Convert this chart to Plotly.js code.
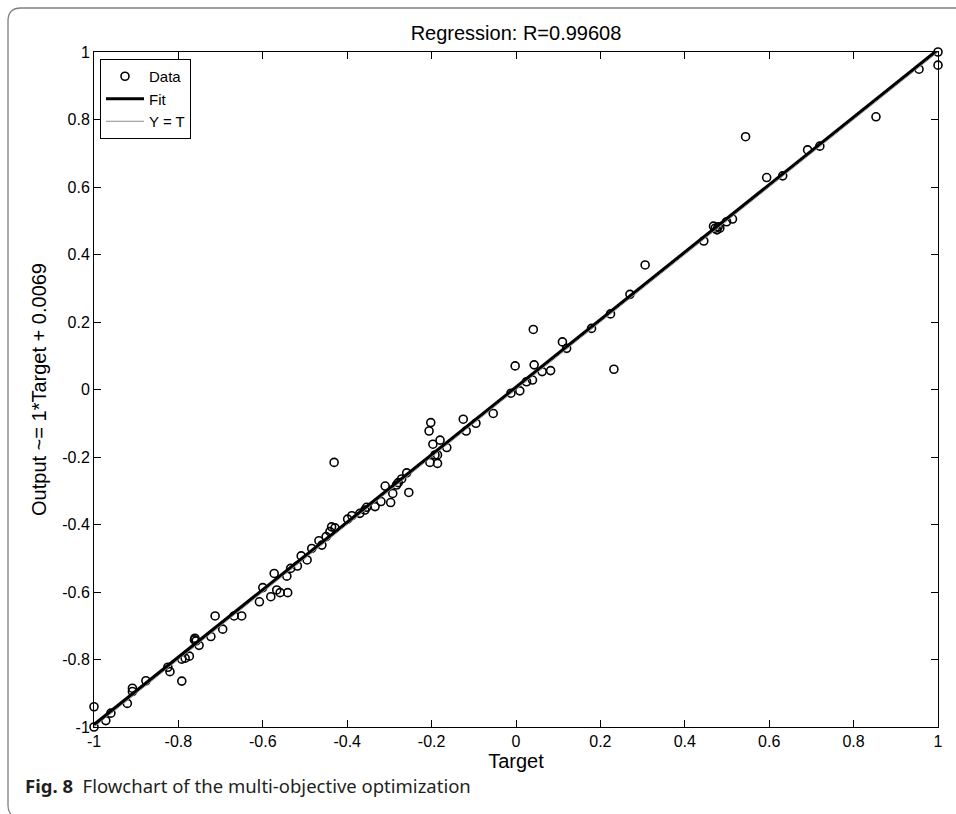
<!DOCTYPE html>
<html>
<head>
<meta charset="utf-8">
<script src="https://cdn.plot.ly/plotly-3.0.1.min.js"></script>
<style>
html,body{margin:0;padding:0;background:#fff;}
#chart{width:956px;height:814px;}
</style>
</head>
<body>
<div id="chart"></div>
<script>
// ---- data ----
const dataTarget = [
 -1.000,-1.000,-0.972,-0.960,-0.921,-0.909,-0.909,-0.877,-0.825,-0.820,
 -0.792,-0.792,-0.784,-0.774,-0.761,-0.762,-0.758,-0.751,-0.723,-0.713,
 -0.695,-0.668,-0.650,-0.608,-0.600,-0.581,-0.573,-0.567,-0.559,-0.541,
 -0.543,-0.534,-0.518,-0.509,-0.495,-0.484,-0.467,-0.460,-0.450,-0.441,
 -0.437,-0.429,-0.431,-0.399,-0.389,-0.370,-0.358,-0.354,-0.334,-0.320,
 -0.297,-0.310,-0.292,-0.254,-0.283,-0.279,-0.271,-0.259,-0.204,-0.186,
 -0.206,-0.202,-0.197,-0.192,-0.186,-0.180,-0.164,-0.125,-0.118,-0.095,
 -0.054,-0.012, 0.009,-0.002, 0.025, 0.039, 0.043, 0.041, 0.062, 0.082,
  0.110, 0.120, 0.179, 0.224, 0.232, 0.270, 0.306, 0.445, 0.468, 0.472,
  0.476, 0.483, 0.479, 0.499, 0.513, 0.544, 0.594, 0.632, 0.691, 0.720,
  0.853, 0.955, 1.000, 1.000
];
const dataOutput = [
 -0.940,-1.000,-0.981,-0.959,-0.930,-0.885,-0.895,-0.863,-0.823,-0.836,
 -0.864,-0.799,-0.796,-0.790,-0.737,-0.742,-0.745,-0.758,-0.732,-0.671,
 -0.710,-0.671,-0.671,-0.629,-0.587,-0.614,-0.545,-0.594,-0.602,-0.602,
 -0.553,-0.530,-0.523,-0.493,-0.505,-0.471,-0.448,-0.461,-0.436,-0.421,
 -0.407,-0.410,-0.216,-0.384,-0.374,-0.367,-0.357,-0.349,-0.347,-0.332,
 -0.335,-0.286,-0.308,-0.305,-0.283,-0.276,-0.265,-0.247,-0.216,-0.219,
 -0.123,-0.098,-0.162,-0.194,-0.194,-0.150,-0.172,-0.088,-0.123,-0.100,
 -0.071,-0.011,-0.004, 0.070, 0.023, 0.028, 0.073, 0.178, 0.053, 0.056,
  0.141, 0.122, 0.181, 0.224, 0.060, 0.282, 0.369, 0.440, 0.484, 0.478,
  0.473, 0.478, 0.482, 0.497, 0.505, 0.749, 0.628, 0.633, 0.710, 0.721,
  0.808, 0.949, 0.961, 1.000
];
const fitTarget = [-1, 1];
const fitOutput = [-0.9931, 1.0069];
const identTarget = [-1, 1];
const identOutput = [-1, 1];
const tickVals = [-1, -0.8, -0.6, -0.4, -0.2, 0, 0.2, 0.4, 0.6, 0.8, 1];
const tickText = ['-1', '-0.8', '-0.6', '-0.4', '-0.2', '0', '0.2', '0.4', '0.6', '0.8', '1'];
const seriesNames = ['Data', 'Fit', 'Y = T'];

// ---- layout helpers (pixel -> paper) ----
const W = 956, H = 814;
const M = {l: 94, r: 18, t: 52, b: 87};
const PW = W - M.l - M.r, PH = H - M.t - M.b;
const px = x => (x - M.l) / PW;
const py = y => (H - M.b - y) / PH;

function framePath(x0, y0, x1, y1, r) {
  return 'M' + px(x0) + ',' + py(y1 - r) +
    ' L' + px(x0) + ',' + py(y0 + r) +
    ' Q' + px(x0) + ',' + py(y0) + ' ' + px(x0 + r) + ',' + py(y0) +
    ' L' + px(x1) + ',' + py(y0) +
    ' L' + px(x1) + ',' + py(y1) +
    ' L' + px(x0 + r) + ',' + py(y1) +
    ' Q' + px(x0) + ',' + py(y1) + ' ' + px(x0) + ',' + py(y1 - r) + ' Z';
}

const FONT = 'Arial, "Liberation Sans", Helvetica, sans-serif';

const traces = [
  {
    x: dataTarget, y: dataOutput, name: seriesNames[0],
    type: 'scatter', mode: 'markers', cliponaxis: false,
    marker: {symbol: 'circle-open', size: 8, color: '#000', line: {width: 1.6, color: '#000'}}
  },
  {
    x: fitTarget, y: fitOutput, name: seriesNames[1],
    type: 'scatter', mode: 'lines', cliponaxis: false,
    line: {color: '#000', width: 3.2}
  },
  {
    x: identTarget, y: identOutput, name: seriesNames[2],
    type: 'scatter', mode: 'lines', cliponaxis: false,
    line: {color: '#8c8c8c', width: 1}
  }
];

const axisCommon = {
  range: [-1, 1], autorange: false,
  showgrid: false, zeroline: false,
  showline: true, linecolor: '#000', linewidth: 1, mirror: 'ticks',
  ticks: 'inside', ticklen: 7, tickwidth: 1, tickcolor: '#000',
  tickmode: 'array', tickvals: tickVals, ticktext: tickText,
  tickfont: {family: FONT, size: 16, color: '#000'}
};

const layout = {
  width: W, height: H,
  margin: M,
  paper_bgcolor: '#fff', plot_bgcolor: '#fff',
  font: {family: FONT, color: '#000'},
  title: {
    text: 'Regression: R=0.99608',
    font: {family: FONT, size: 20, color: '#000'},
    x: 0.5, xref: 'paper', xanchor: 'center',
    y: 1 - 33 / H, yref: 'container', yanchor: 'middle'
  },
  xaxis: Object.assign({}, axisCommon, {
    title: {text: 'Target', font: {family: FONT, size: 20, color: '#000'}, standoff: 2}
  }),
  yaxis: Object.assign({}, axisCommon, {
    title: {text: 'Output ~= 1*Target + 0.0069', font: {family: FONT, size: 20, color: '#000'}, standoff: 10}
  }),
  showlegend: true,
  legend: {
    x: px(100), y: py(59), xanchor: 'left', yanchor: 'top',
    bordercolor: '#000', borderwidth: 1, bgcolor: '#fff',
    font: {family: FONT, size: 15, color: '#000'},
    itemwidth: 38,
    traceorder: 'normal', tracegroupgap: 0
  },
  shapes: [
    {type: 'path', xref: 'paper', yref: 'paper', path: framePath(8, 8, 975, 818, 13),
     line: {color: '#7f7f7f', width: 1.3}, fillcolor: 'rgba(0,0,0,0)', layer: 'below'}
  ],
  annotations: [
    {
      xref: 'paper', yref: 'paper', x: px(23), y: py(785),
      xanchor: 'left', yanchor: 'middle', showarrow: false, align: 'left',
      text: '<b>Fig. 8</b>\u00a0\u00a0Flowchart of the multi-objective optimization',
      font: {family: '"Noto Sans", "Open Sans", sans-serif', size: 18.5, color: '#231f20'}
    }
  ]
};

Plotly.newPlot('chart', traces, layout, {displayModeBar: false, responsive: false});
</script>
</body>
</html>
